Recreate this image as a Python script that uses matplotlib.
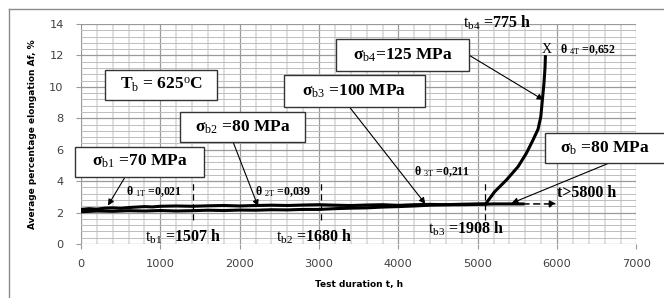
import numpy as np
import matplotlib
matplotlib.use('Agg')
import matplotlib.pyplot as plt
from matplotlib.patches import Rectangle
from matplotlib.lines import Line2D

plt.rcParams['mathtext.fontset'] = 'custom'
plt.rcParams['mathtext.rm'] = 'Liberation Serif'
plt.rcParams['mathtext.bf'] = 'Liberation Serif:bold'
plt.rcParams['mathtext.it'] = 'Liberation Serif:italic'

# step-loading test (70 -> 80 -> 100 -> 125 MPa)
step_t = [0, 100, 200, 300, 400, 500, 600, 700, 800, 900, 1000, 1200, 1400, 1600, 1800,
          2000, 2200, 2400, 2600, 2800, 3000, 3200, 3400, 3600, 3800, 4000, 4200, 4400,
          4600, 4800, 5000, 5100]
step_A = [2.2, 2.25, 2.22, 2.28, 2.3, 2.27, 2.32, 2.35, 2.38, 2.36, 2.4, 2.42, 2.4, 2.43, 2.45,
          2.42, 2.45, 2.47, 2.45, 2.48, 2.5, 2.47, 2.45, 2.48, 2.5, 2.46, 2.5, 2.52,
          2.5, 2.53, 2.55, 2.55]
rise_t = [5100, 5214, 5361, 5508, 5613, 5697, 5760, 5795, 5815, 5835, 5848, 5853]
rise_A = [2.55, 3.33, 4.07, 4.92, 5.77, 6.62, 7.3, 8.1, 9.17, 10.23, 11.2, 11.92]

# constant load test 80 MPa
const_t = [0, 200, 400, 600, 800, 1000, 1200, 1400, 1600, 1800, 2000, 2200, 2400, 2600, 2800,
           3000, 3200, 3400, 3600, 3800, 4000, 4200, 4400, 4600, 4800, 5000, 5200, 5400, 5570]
const_A = [2.05, 2.1, 2.08, 2.12, 2.1, 2.13, 2.1, 2.12, 2.15, 2.13, 2.16, 2.15, 2.18, 2.17, 2.2,
           2.2, 2.25, 2.28, 2.3, 2.35, 2.38, 2.42, 2.47, 2.5, 2.5, 2.52, 2.55, 2.55, 2.55]
ext_t = [5570, 5995]

# dashed markers of step changes
step_lines = [1410, 3030, 5095]

fig = plt.figure(figsize=(6.64, 2.98), dpi=100)
ax = fig.add_axes([81/664, 1-244/298, (636.4-81)/664, (244-24)/298])
ax.set_xlim(0, 7000)
ax.set_ylim(0, 14)

ax.set_xticks(np.arange(0, 7001, 1000))
ax.set_yticks(np.arange(0, 15, 2))
ax.set_xticks(np.arange(0, 7001, 200), minor=True)
ax.set_yticks(np.arange(0, 14.01, 0.4), minor=True)
ax.grid(which='minor', axis='x', color='#dcdcdc', lw=1.3, zorder=0)
ax.grid(which='minor', axis='y', color='#bdbdbd', lw=0.7, zorder=0)
ax.grid(which='major', color='#9a9a9a', lw=0.9, zorder=0)
for s in ax.spines.values():
    s.set_visible(False)
ax.tick_params(which='major', length=3.5, color='#9a9a9a', labelsize=8.2,
               labelcolor='#404040', pad=7)
ax.tick_params(axis='y', pad=9)
ax.tick_params(which='minor', length=0)

ax.set_xlabel('Test duration t, h', fontsize=6.5, fontweight='bold', labelpad=8)
ax.set_ylabel('Average percentage elongation Af, %', fontsize=6.5, fontweight='bold', labelpad=9)

lw = 2.2
ax.plot(const_t, const_A, color='black', lw=lw, zorder=3)
ax.plot(step_t, step_A, color='black', lw=lw, zorder=3)
ax.plot(rise_t, rise_A, color='black', lw=lw, zorder=3)
for t in step_lines:
    ax.plot([t, t], [1.55, 4.0], color='black', lw=0.9, ls=(0, (5, 3)), zorder=3)
ax.annotate('', xy=(ext_t[1], 2.55), xytext=(ext_t[0], 2.55),
            arrowprops=dict(arrowstyle='-|>', color='black', lw=1.1, ls=(0, (4, 3)),
                            mutation_scale=10, shrinkA=0, shrinkB=0), zorder=3)

serif = 'Liberation Serif'

# boxed labels: text, x0, x1, y0, y1
boxes = [
    (r'T$_\mathrm{b}$ = 625$^\mathrm{o}$C', 302, 1714, 9.17, 11.08),
    (r'σ$_\mathrm{b1}$ =70 MPa', -76, 1550, 4.28, 6.19),
    (r'σ$_\mathrm{b2}$ =80 MPa', 1248, 2823, 6.49, 8.4),
    (r'σ$_\mathrm{b3}$ =100 MPa', 2559, 4336, 8.72, 10.76),
    (r'σ$_\mathrm{b4}$=125 MPa', 3214, 4890, 11.01, 13.05),
    (r'σ$_\mathrm{b}$ =80 MPa', 5848, 7400, 5.14, 7.08),
]
for txt, x0, x1, y0, y1 in boxes:
    ax.add_patch(Rectangle((x0, y0), x1-x0, y1-y0, facecolor='white', edgecolor='#333333',
                           lw=1.0, zorder=5, clip_on=False))
    xc = (x0 + x1) / 2 if x1 < 7000 else 6600
    ax.text(xc, (y0+y1)/2, txt, family=serif, fontweight='bold', fontsize=12.5,
            ha='center', va='center', zorder=6, clip_on=False)

# arrows from boxes to curves
arrows = [((555, 4.26), (340, 2.45)),
          ((1916, 6.5), (2231, 2.4)),
          ((3374, 8.78), (4340, 2.55)),
          ((4886, 12.03), (5827, 9.17)),
          ((6651, 5.14), (5428, 2.6))]
for (x0, y0), (x1, y1) in arrows:
    ax.annotate('', xy=(x1, y1), xytext=(x0, y0),
                arrowprops=dict(arrowstyle='-|>', color='black', lw=0.8,
                                mutation_scale=9, shrinkA=0, shrinkB=0), zorder=4)

# small labels
ax.text(565, 3.33, r'θ $_\mathrm{1T}$ =0,021', family=serif, fontweight='bold',
        fontsize=8.5, va='center', zorder=4)
ax.text(2193, 3.33, r'θ $_\mathrm{2T}$ =0,039', family=serif, fontweight='bold',
        fontsize=8.5, va='center', zorder=4)
ax.text(4193, 4.6, r'θ $_\mathrm{3T}$ =0,211', family=serif, fontweight='bold',
        fontsize=8.5, va='center', zorder=4)
ax.text(5806, 12.35, 'X', family=serif, fontsize=10, va='center', zorder=4)
ax.text(6037, 12.35, r'θ $_\mathrm{4T}$ =0,652', family=serif, fontweight='bold',
        fontsize=8.5, va='center', zorder=4)

ax.text(1280, 0.45, r'$\mathrm{t_{b1}}$ =1507 h', family=serif, fontweight='bold',
        fontsize=11.5, ha='center', va='center', zorder=4)
ax.text(2937, 0.45, r'$\mathrm{t_{b2}}$ =1680 h', family=serif, fontweight='bold',
        fontsize=11.5, ha='center', va='center', zorder=4)
ax.text(4850, 0.95, r'$\mathrm{t_{b3}}$ =1908 h', family=serif, fontweight='bold',
        fontsize=11.5, ha='center', va='center', zorder=4)
ax.text(5240, 14.07, r'$\mathrm{t_{b4}}$ =775 h', family=serif, fontweight='bold',
        fontsize=11.5, ha='center', va='center', zorder=4, clip_on=False)
ax.text(6000, 3.27, 't>5800 h', family=serif, fontweight='bold',
        fontsize=11.5, va='center', zorder=4)

# chart area border
bx, by = 8.5/664, 1-8.5/298
fig.add_artist(Line2D([bx, bx], [0, by], transform=fig.transFigure, color='#8a8a8a', lw=1))
fig.add_artist(Line2D([bx, 1], [by, by], transform=fig.transFigure, color='#8a8a8a', lw=1))

fig.savefig('out.png', dpi=100)
